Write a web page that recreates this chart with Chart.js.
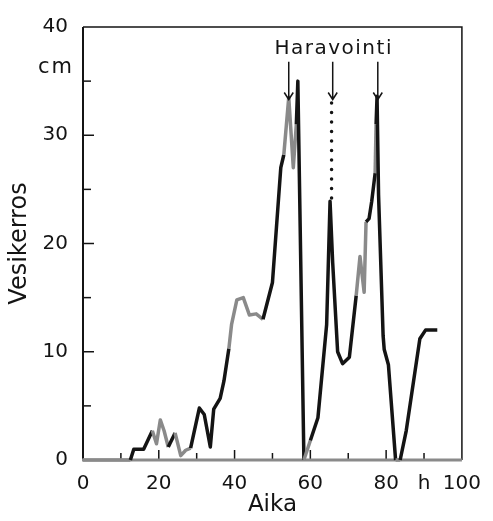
<!DOCTYPE html>
<html>
<head>
<meta charset="utf-8">
<title>Vesikerros</title>
<script src="https://cdn.jsdelivr.net/npm/chart.js@4.4.0/dist/chart.umd.min.js"></script>
<style>
  html, body { margin: 0; padding: 0; background: #fff; }
  canvas { display: block; }
</style>
</head>
<body>
<canvas id="chart" width="493" height="521"></canvas>
<script>
// water layer (cm) over time (h)
const hours = [0, 12.5, 13.4, 16, 18.3, 19.4, 20.4, 21.4, 22.5, 24.3, 25.8, 27.1, 28.4,
    30.7, 32, 33.6, 34.5, 36.2, 37.2, 38.5, 39.2, 40.6, 42.3, 43.9, 45.7, 47.5, 50,
    52.2, 53, 54.3, 55.5, 56.3, 56.7, 58.3, 60, 62, 64.3, 65.2, 65.9, 67.2, 68.5,
    70.3, 72.1, 73.1, 74.2, 74.7, 75.5, 76.2, 77.1, 77.35, 77.6, 78, 79.2, 79.5,
    80.6, 82.5, 83.7, 85.3, 88.9, 90.4, 93.5];
const depth = [0, 0, 1, 1, 2.7, 1.5, 3.7, 2.7, 1.2, 2.5, 0.4, 0.9, 1.1,
    4.8, 4.2, 1.2, 4.7, 5.7, 7.3, 10.3, 12.5, 14.8, 15, 13.4, 13.5, 13, 16.4,
    27, 28.2, 33.5, 27, 31, 35, 0, 1.8, 3.9, 12.5, 23.9, 18.2, 10, 8.9,
    9.5, 15.2, 18.8, 15.5, 22, 22.3, 23.9, 26.5, 31, 33.6, 24.5, 11.5, 10.2,
    8.8, 0, 0, 2.7, 11.2, 12, 12];

// dotted part under the second arrow
const gapHours = [65.6, 65.6];
const gapDepth = [24.2, 33];

// raking times (arrows)
const rakingHours = [54.3, 65.9, 77.8];

// tick labels, one per 10 units
const xTickLabels = ['0', '', '20', '', '40', '', '60', '', '80', 'h', '100'];
const yTickLabels = ['0', '10', '20', '30', '40'];

// stretches drawn in grey in the original
const greyStretches = [[0, 12.6], [18.5, 22.2], [24.5, 28.5], [38.6, 47.4],
    [53.2, 56.2], [58.5, 60], [72, 74.6], [77.15, 77.3]];

const BLACK = '#141414';
const GREY = '#8a8a8a';
const FONT = "'DejaVu Sans', sans-serif";

function isGrey(ctx) {
    // flat stretches on the floor merge with the grey axis
    if (ctx.p0.parsed.y === 0 && ctx.p1.parsed.y === 0) return true;
    const mid = (ctx.p0.parsed.x + ctx.p1.parsed.x) / 2;
    return greyStretches.some(r => mid >= r[0] && mid <= r[1]);
}

// frame with inward ticks, arrows and labels
const framePlugin = {
    id: 'frame',
    beforeDatasetsDraw(chart) {
        const { ctx, chartArea: a, scales: { x, y } } = chart;
        ctx.save();
        ctx.lineCap = 'butt';

        ctx.strokeStyle = BLACK;
        ctx.lineWidth = 1.5;
        ctx.beginPath();
        ctx.moveTo(a.left, a.top);
        ctx.lineTo(a.right, a.top);
        ctx.lineTo(a.right, a.bottom);
        ctx.stroke();

        ctx.lineWidth = 2;
        ctx.beginPath();
        ctx.moveTo(a.left, a.top);
        ctx.lineTo(a.left, a.bottom);
        ctx.stroke();

        // inward ticks
        ctx.lineWidth = 1.5;
        for (let v = 5; v < 40; v += 5) {
            const py = y.getPixelForValue(v);
            const len = v % 10 === 0 ? 11 : 8;
            ctx.beginPath();
            ctx.moveTo(a.left, py);
            ctx.lineTo(a.left + len, py);
            ctx.stroke();
        }
        for (let v = 10; v < 100; v += 10) {
            const px = x.getPixelForValue(v);
            const len = v % 20 === 0 ? 10 : 7;
            ctx.beginPath();
            ctx.moveTo(px, a.bottom);
            ctx.lineTo(px, a.bottom - len);
            ctx.stroke();
        }

        ctx.strokeStyle = GREY;
        ctx.lineWidth = 3;
        ctx.beginPath();
        ctx.moveTo(a.left - 1, a.bottom);
        ctx.lineTo(a.right, a.bottom);
        ctx.stroke();
        ctx.restore();
    },
    afterDatasetsDraw(chart) {
        const { ctx, scales: { x, y } } = chart;
        ctx.save();
        ctx.strokeStyle = BLACK;
        ctx.lineWidth = 1.5;
        const top = y.getPixelForValue(36.8);
        const tip = y.getPixelForValue(33.3);
        rakingHours.forEach(h => {
            const px = x.getPixelForValue(h);
            ctx.beginPath();
            ctx.moveTo(px, top);
            ctx.lineTo(px, tip);
            ctx.moveTo(px - 4.5, tip - 7);
            ctx.lineTo(px, tip);
            ctx.lineTo(px + 4.5, tip - 7);
            ctx.stroke();
        });

        ctx.fillStyle = BLACK;
        ctx.font = '20px ' + FONT;
        ctx.letterSpacing = '1.5px';
        ctx.textAlign = 'center';
        ctx.textBaseline = 'alphabetic';
        ctx.fillText('Haravointi', x.getPixelForValue(rakingHours[1]) + 1, y.getPixelForValue(37.5));

        ctx.font = '21px ' + FONT;
        ctx.letterSpacing = '2px';
        ctx.textAlign = 'right';
        ctx.textBaseline = 'middle';
        ctx.fillText('cm', 74, y.getPixelForValue(36.3));
        ctx.letterSpacing = '0px';
        ctx.restore();
    }
};

const tickFont = { family: FONT, size: 20 };

new Chart(document.getElementById('chart'), {
    type: 'scatter',
    data: {
        datasets: [{
            data: hours.map((h, i) => ({ x: h, y: depth[i] })),
            showLine: true,
            borderColor: BLACK,
            borderWidth: 3.5,
            borderJoinStyle: 'round',
            pointRadius: 0,
            clip: false,
            segment: {
                borderColor: ctx => isGrey(ctx) ? GREY : BLACK
            }
        }, {
            data: gapHours.map((h, i) => ({ x: h, y: gapDepth[i] })),
            showLine: true,
            borderColor: BLACK,
            borderWidth: 3.5,
            borderCapStyle: 'round',
            borderDash: [0, 9.5],
            pointRadius: 0
        }]
    },
    options: {
        responsive: false,
        animation: false,
        layout: { padding: { top: 20, right: 23, left: 0, bottom: 0 } },
        plugins: {
            legend: { display: false },
            tooltip: { enabled: false }
        },
        scales: {
            x: {
                type: 'linear',
                min: 0,
                max: 100,
                border: { display: false },
                grid: { display: false, drawTicks: false },
                ticks: {
                    stepSize: 10,
                    autoSkip: false,
                    maxRotation: 0,
                    padding: 12,
                    color: BLACK,
                    font: tickFont,
                    callback: v => xTickLabels[Math.round(v / 10)] ?? ''
                },
                title: {
                    display: true,
                    text: 'Aika',
                    color: BLACK,
                    font: { family: FONT, size: 23 },
                    padding: { top: 0, bottom: 2 }
                },
                afterFit(scale) { scale.height = 61; }
            },
            y: {
                min: 0,
                max: 40,
                border: { display: false },
                grid: { display: false, drawTicks: false },
                ticks: {
                    stepSize: 10,
                    autoSkip: false,
                    padding: 15,
                    color: BLACK,
                    font: tickFont,
                    callback: v => yTickLabels[Math.round(v / 10)] ?? ''
                },
                title: {
                    display: true,
                    text: 'Vesikerros',
                    color: BLACK,
                    font: { family: FONT, size: 24 },
                    padding: { top: 5, bottom: 0 }
                },
                afterFit(scale) { scale.width = 83; }
            }
        }
    },
    plugins: [framePlugin]
});
</script>
</body>
</html>
